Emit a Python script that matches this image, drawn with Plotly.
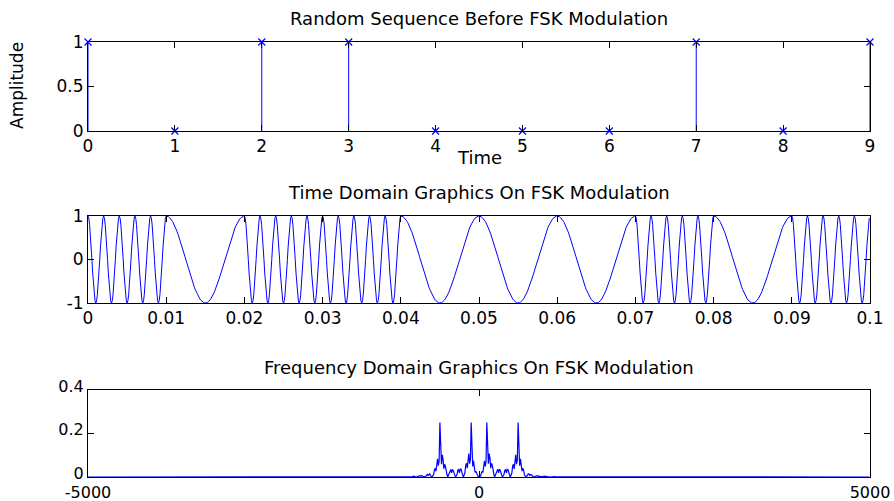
import numpy as np
import plotly.graph_objects as go

# ---- data ----
bit_index = [0, 1, 2, 3, 4, 5, 6, 7, 8, 9]
bits = [1, 0, 1, 1, 0, 0, 0, 1, 0, 1]
f_mark = 500.0      # Hz, carrier for bit 1
f_space = 100.0     # Hz, carrier for bit 0
bit_time = 0.01     # s per bit
fs = 10000.0        # sample rate, Hz

top_xticks = list(range(10))
top_yticks = [0, 0.5, 1]
mid_xticks = [0, 0.01, 0.02, 0.03, 0.04, 0.05, 0.06, 0.07, 0.08, 0.09, 0.1]
mid_xlabels = ["0", "0.01", "0.02", "0.03", "0.04", "0.05", "0.06", "0.07", "0.08", "0.09", "0.1"]
mid_yticks = [-1, 0, 1]
bot_xticks = [-5000, 0, 5000]
bot_yticks = [0, 0.2, 0.4]

# ---- FSK modulation of the bit sequence ----
spb = int(round(bit_time * fs))
t = np.arange(len(bits) * spb) / fs
freq = np.repeat([f_mark if b else f_space for b in bits], spb)
sig = np.cos(2 * np.pi * freq * t)
N = len(sig)
spec = np.abs(np.fft.fftshift(np.fft.fft(sig))) / N
fax = (np.arange(N) - N // 2) * fs / N

# stems
sx, sy = [], []
for x, y in zip(bit_index, bits):
    sx += [x, x, None]
    sy += [0, y, None]

BLUE = "#0000ff"
FONT = "DejaVu Sans"
TS = 17
fig = go.Figure()
fig.add_trace(go.Scatter(x=sx, y=sy, mode="lines", line=dict(color=BLUE, width=1),
                         xaxis="x", yaxis="y", showlegend=False, hoverinfo="skip"))
fig.add_trace(go.Scatter(x=bit_index, y=bits, mode="markers",
                         marker=dict(symbol="x-thin", size=7, line=dict(color=BLUE, width=1.2), color=BLUE),
                         xaxis="x", yaxis="y", showlegend=False, cliponaxis=False))
fig.add_trace(go.Scatter(x=t, y=sig, mode="lines", line=dict(color=BLUE, width=1),
                         xaxis="x2", yaxis="y2", showlegend=False))
fig.add_trace(go.Scatter(x=fax, y=spec, mode="lines", line=dict(color=BLUE, width=1.2),
                         xaxis="x3", yaxis="y3", showlegend=False))

axcommon = dict(showline=True, linecolor="black", linewidth=1, mirror="allticks",
                ticks="inside", ticklen=6, tickcolor="black", showgrid=False, zeroline=False,
                automargin=False)

def tf(size):
    return dict(family=FONT, size=size, color="black")

fig.update_layout(
    width=894, height=501,
    margin=dict(l=88, r=24, t=42, b=24),
    paper_bgcolor="white", plot_bgcolor="white",
    font=dict(family=FONT, size=TS, color="black"),
    xaxis=dict(domain=[0, 1], range=[0, 9], tickvals=top_xticks, anchor="y",
               tickfont=tf(TS), **axcommon),
    yaxis=dict(domain=[0.7954, 1], range=[0, 1], tickvals=top_yticks,
               ticktext=["0", "0.5", "1"], anchor="x", tickfont=tf(TS), **axcommon),
    xaxis2=dict(domain=[0, 1], range=[0, 0.1], tickvals=mid_xticks, ticktext=mid_xlabels,
                anchor="y2", tickfont=tf(TS), **axcommon),
    yaxis2=dict(domain=[0.4, 0.6], range=[-1, 1], tickvals=mid_yticks,
                ticktext=["-1", "0", "1"], anchor="x2", tickfont=tf(TS), **axcommon),
    xaxis3=dict(domain=[0, 1], range=[-5000, 5000], tickvals=bot_xticks,
                ticktext=["-5000", "0", "5000"], anchor="y3", ticklabelstandoff=1,
                tickfont=tf(16), **axcommon),
    yaxis3=dict(domain=[0, 0.2], range=[0, 0.4], tickvals=bot_yticks,
                ticktext=["0", "0.2", "0.4"], anchor="x3", ticklabelshift=-4,
                tickfont=tf(16), **axcommon),
    annotations=[
        dict(text="Random Sequence Before FSK Modulation", x=0.5, y=1.053, xref="paper", yref="paper",
             showarrow=False, xanchor="center", yanchor="middle", font=tf(18)),
        dict(text="Time Domain Graphics On FSK Modulation", x=0.5, y=0.653, xref="paper", yref="paper",
             showarrow=False, xanchor="center", yanchor="middle", font=tf(18)),
        dict(text="Frequency Domain Graphics On FSK Modulation", x=0.5, y=0.2506, xref="paper", yref="paper",
             showarrow=False, xanchor="center", yanchor="middle", font=tf(18)),
        dict(text="Time", x=0.5, y=(477 - 157) / 435, xref="paper", yref="paper",
             showarrow=False, xanchor="center", yanchor="middle", font=tf(18)),
        dict(text="Amplitude", x=(17 - 88) / 782, y=(477 - 86) / 435, xref="paper", yref="paper",
             showarrow=False, xanchor="center", yanchor="middle", textangle=-90, font=tf(17)),
    ],
)

fig.write_html("out.html", config={"displayModeBar": False},
               post_script="document.body.style.margin='0';document.body.style.overflow='hidden';")
